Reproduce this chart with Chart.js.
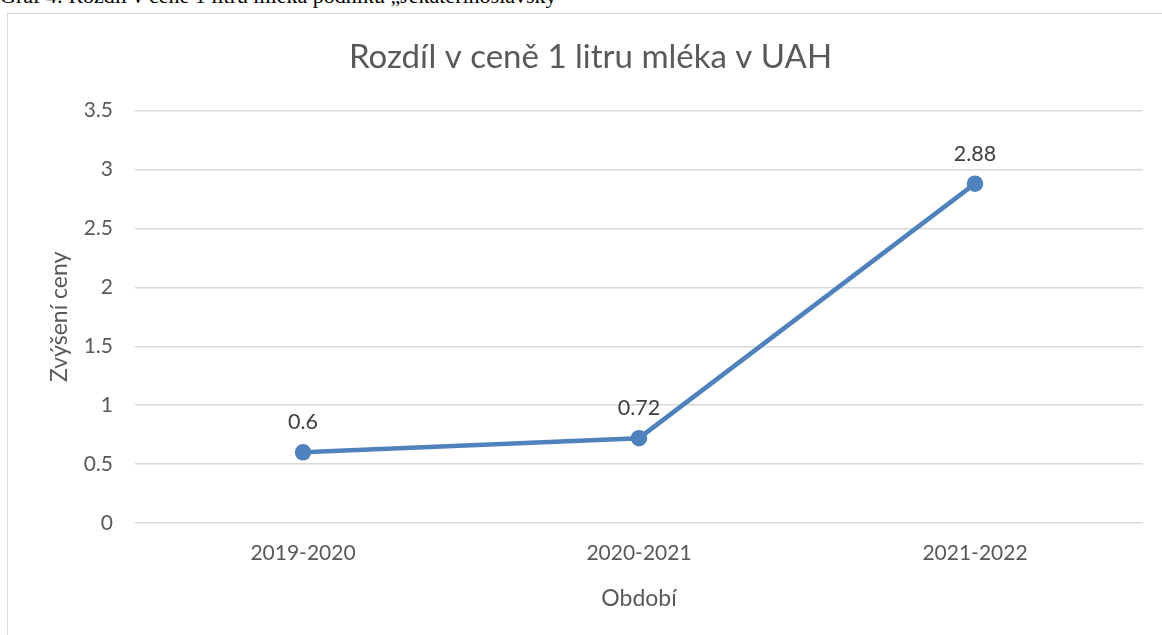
<!DOCTYPE html>
<html>
<head>
<meta charset="utf-8">
<script src="https://cdn.jsdelivr.net/npm/chart.js@4"></script>
<style>
  body { margin: 0; background: #fff; overflow: hidden; width: 1162px; height: 635px; position: relative; }
  #caption { position: absolute; left: 0; top: -17px; font-family: "Liberation Serif", serif; font-size: 22px; color: #000; white-space: nowrap; }
  #frame { position: absolute; left: 7px; top: 13px; width: 1170px; height: 640px; border: 1px solid #d9d9d9; background: #fff; }
  #box { position: absolute; left: 0; top: 0; width: 1160px; height: 630px; }
</style>
</head>
<body>
<div id="caption">Graf 4: Rozdíl v ceně 1 litru mléka podniku „Jekaterinoslavsky"</div>
<div id="frame"><div id="box"><canvas id="chart"></canvas></div></div>
<script>
const periods = ["2019-2020", "2020-2021", "2021-2022"];
const priceIncrease = [0.6, 0.72, 2.88];

const font = "Lato";
const textGrey = "#595959";

// value labels above each point
const pointLabels = {
  id: "pointLabels",
  afterDatasetsDraw(chart) {
    const ctx = chart.ctx;
    const meta = chart.getDatasetMeta(0);
    ctx.save();
    ctx.font = "21.5px " + font;
    ctx.fillStyle = "#404040";
    ctx.textAlign = "center";
    ctx.textBaseline = "middle";
    meta.data.forEach((pt, i) => {
      ctx.fillText(String(priceIncrease[i]), pt.x, pt.y - 30);
    });
    ctx.restore();
  }
};

new Chart(document.getElementById("chart"), {
  type: "line",
  data: {
    labels: periods,
    datasets: [
      {
        label: "Zvýšení ceny",
        data: priceIncrease,
        borderColor: "#4f81bd",
        backgroundColor: "#4f81bd",
        borderWidth: 4.5,
        pointRadius: 6,
        pointHoverRadius: 6,
        tension: 0,
        fill: false,
      },
    ],
  },
  options: {
    responsive: true,
    maintainAspectRatio: false,
    animation: false,
    layout: { padding: { left: 30, right: 25, top: 0, bottom: 0 } },
    plugins: {
      legend: { display: false },
      tooltip: { enabled: false },
      title: {
        display: true,
        text: "Rozdíl v ceně 1 litru mléka v UAH",
        color: textGrey,
        font: { family: font, size: 33, weight: "normal" },
        padding: { top: 24, bottom: 33 },
      },
    },
    scales: {
      x: {
        offset: true,
        grid: { display: false, drawTicks: false },
        border: { display: false },
        ticks: { color: textGrey, font: { family: font, size: 21 }, padding: 18 },
        title: {
          display: true,
          text: "Období",
          color: textGrey,
          font: { family: font, size: 23 },
          padding: { top: 0, bottom: 32 },
        },
        afterFit(scale) { scale.height = 121; },
      },
      y: {
        min: 0,
        max: 3.5,
        grid: { color: "#d9d9d9", lineWidth: 1.5, drawTicks: false },
        border: { display: false },
        ticks: {
          stepSize: 0.5,
          color: textGrey,
          font: { family: font, size: 21 },
          padding: 22,
          callback: (v) => String(v),
        },
        title: {
          display: true,
          text: "Zvýšení ceny",
          color: textGrey,
          font: { family: font, size: 23 },
          padding: { top: 8, bottom: 0 },
        },
        afterFit(scale) { scale.width = 97; },
      },
    },
  },
  plugins: [pointLabels],
});
</script>
</body>
</html>
